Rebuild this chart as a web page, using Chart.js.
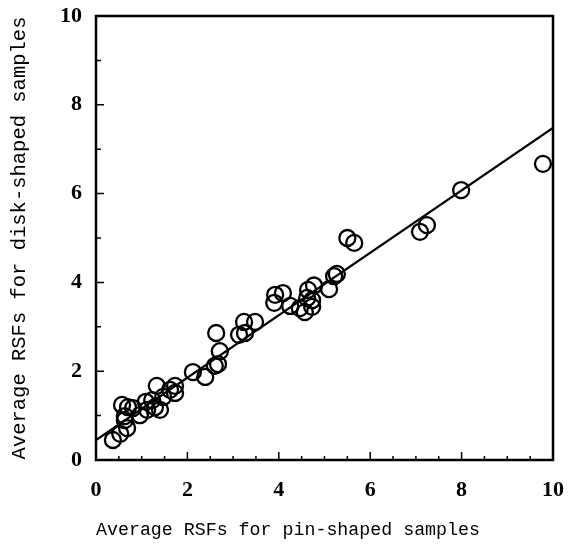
<!DOCTYPE html>
<html>
<head>
<meta charset="utf-8">
<script src="https://cdn.jsdelivr.net/npm/chart.js@4.4.0/dist/chart.umd.min.js"></script>
<style>
  body { margin: 0; background: #fff; }
  #wrap { width: 568px; height: 551px; }
</style>
</head>
<body>
<div id="wrap"><canvas id="myChart"></canvas></div>
<script>
// pin-shaped (x) vs disk-shaped (y) average RSFs
var pinRSF = [0.37, 0.53, 0.68, 0.63, 0.57, 0.70, 0.81, 0.63, 0.96, 1.12, 1.09, 1.23, 1.29, 1.40,
  1.33, 1.47, 1.62, 1.73, 1.73, 2.12, 2.39, 2.60, 2.67, 2.71, 2.63, 3.13, 3.26, 3.24, 3.48,
  3.92, 3.90, 4.09, 4.25, 4.46, 4.57, 4.62, 4.64, 4.73, 4.73, 4.77, 5.10, 5.21, 5.27,
  5.50, 5.65, 7.09, 7.24, 7.99, 9.78];
var diskRSF = [0.45, 0.59, 0.72, 0.90, 1.24, 1.19, 1.17, 0.99, 1.01, 1.13, 1.31, 1.35, 1.19, 1.13,
  1.67, 1.42, 1.58, 1.67, 1.51, 1.98, 1.87, 2.12, 2.16, 2.45, 2.86, 2.82, 2.86, 3.11, 3.11,
  3.72, 3.54, 3.76, 3.47, 3.42, 3.33, 3.65, 3.83, 3.60, 3.45, 3.93, 3.85, 4.14, 4.19,
  5.00, 4.89, 5.14, 5.29, 6.08, 6.67];

// fitted line end points
var fitX = [0, 10];
var fitY = [0.45, 7.48];

var xTicks = [0, 2, 4, 6, 8, 10];
var yTicks = [0, 2, 4, 6, 8, 10];

var points = pinRSF.map(function (v, i) { return {x: v, y: diskRSF[i]}; });
var fitLine = fitX.map(function (v, i) { return {x: v, y: fitY[i]}; });

// box round the plot and inward tick marks
var framePlugin = {
  id: 'frame',
  afterDraw: function (chart) {
    var ctx = chart.ctx;
    var a = chart.chartArea;
    var xs = chart.scales.x, ys = chart.scales.y;
    ctx.save();
    ctx.strokeStyle = '#000';
    ctx.lineWidth = 2.5;
    ctx.strokeRect(a.left, a.top, a.right - a.left, a.bottom - a.top);
    ctx.lineWidth = 1.5;
    ctx.beginPath();
    for (var v = 0; v <= 10.001; v += 0.5) {
      var px = xs.getPixelForValue(v);
      var len = (Math.abs(v % 2) < 0.01) ? 8 : 4;
      ctx.moveTo(px, a.bottom);
      ctx.lineTo(px, a.bottom - len);
    }
    for (var w = 0; w <= 10; w += 1) {
      var py = ys.getPixelForValue(w);
      var l2 = (w % 2 === 0) ? 8 : 5;
      ctx.moveTo(a.left, py);
      ctx.lineTo(a.left + l2, py);
    }
    ctx.stroke();
    ctx.restore();
  }
};

const config = {
  type: 'scatter',
  data: {
    datasets: [{
      label: 'samples',
      data: points,
      pointStyle: 'circle',
      pointRadius: 8,
      pointBorderWidth: 2.3,
      borderColor: '#000',
      backgroundColor: 'rgba(0,0,0,0)'
    }, {
      type: 'line',
      label: 'fit',
      data: fitLine,
      borderColor: '#000',
      borderWidth: 2.3,
      pointRadius: 0,
      fill: false
    }]
  },
  options: {
    responsive: true,
    maintainAspectRatio: false,
    animation: false,
    layout: { autoPadding: false, padding: { left: 0, right: 15, top: 16, bottom: 0 } },
    plugins: {
      legend: { display: false },
      tooltip: { enabled: false }
    },
    scales: {
      x: {
        type: 'linear',
        min: 0, max: 10,
        afterFit: function (s) { s.height = 91; s.paddingLeft = 0; s.paddingRight = 0; },
        afterBuildTicks: function (s) { s.ticks = xTicks.map(function (v) { return {value: v}; }); },
        grid: { display: false, drawTicks: false },
        border: { display: false },
        ticks: { color: '#000', padding: 17, maxRotation: 0,
          font: { family: 'Liberation Serif', size: 22, weight: 'bold' } },
        title: { display: true, align: 'start', text: 'Average RSFs for pin-shaped samples', color: '#000',
          padding: { top: 0, bottom: 10 },
          font: { family: 'Liberation Mono', size: 18.3 } }
      },
      y: {
        type: 'linear',
        min: 0, max: 10,
        afterFit: function (s) { s.width = 96; s.paddingTop = 0; s.paddingBottom = 0; },
        afterBuildTicks: function (s) { s.ticks = yTicks.map(function (v) { return {value: v}; }); },
        grid: { display: false, drawTicks: false },
        border: { display: false },
        ticks: { color: '#000', padding: 14,
          font: { family: 'Liberation Serif', size: 22, weight: 'bold' } },
        title: { display: true, text: 'Average RSFs for disk-shaped samples', color: '#000',
          padding: { top: 7, bottom: 0 },
          font: { family: 'Liberation Mono', size: 20.5 } }
      }
    }
  },
  plugins: [framePlugin]
};

var myChart = new Chart(document.getElementById('myChart'), config);
</script>
</body>
</html>
